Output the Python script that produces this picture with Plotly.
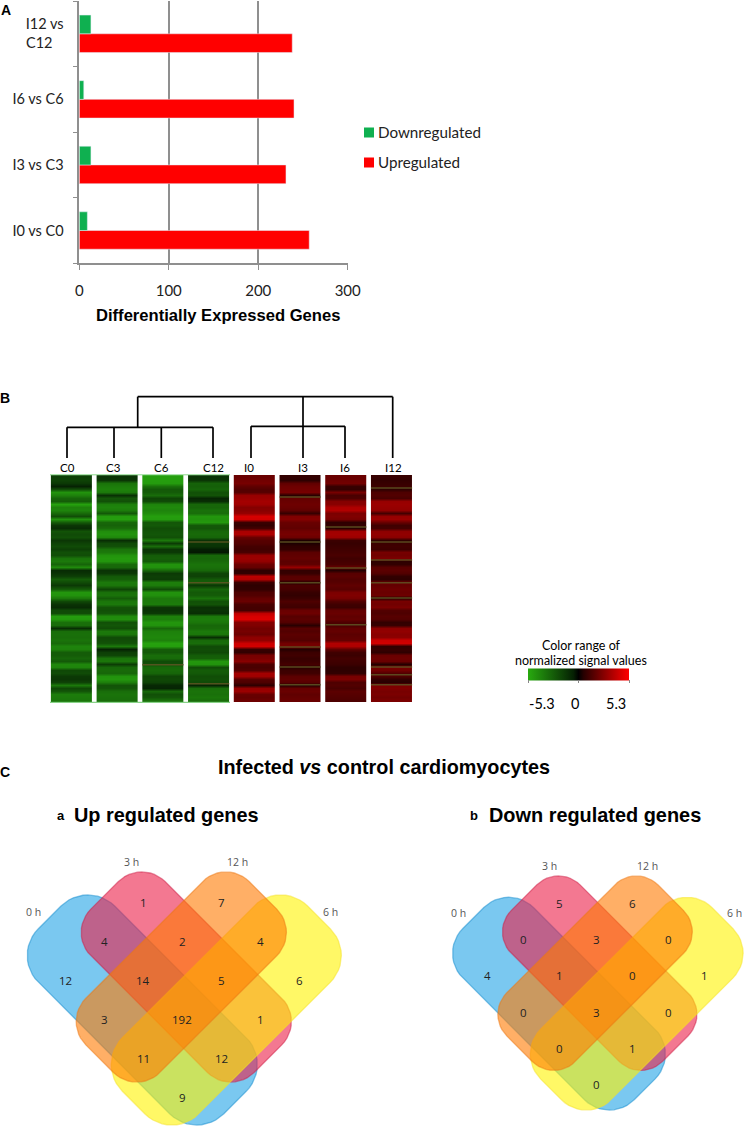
import math
import plotly.graph_objects as go

W, H = 748, 1134

# --- Panel A data
comparisons = ["I0 vs C0", "I3 vs C3", "I6 vs C6", "I12 vs C12"]
comparison_labels = ["I0 vs C0", "I3 vs C3", "I6 vs C6", "I12 vs<br>C12\u00a0\u00a0\u00a0"]
upregulated = [257, 231, 240, 238]
downregulated = [9, 13, 5, 13]

# --- Panel B data (rows top to bottom)
samples = ["C0", "C3", "C6", "C12", "I0", "I3", "I6", "I12"]
C0 = [-1.6,-1.7,-1.4,-0.6,-2.1,-4.5,-3.9,-2.9,-2.6,-5.0,-3.9,-4.0,-3.1,-2.1,-4.5,-2.6,-1.3,-1.0,-2.3,-2.0,-2.2,-1.3,-1.7,-2.0,-1.6,-2.2,-2.1,-3.4,-3.6,-2.9,-4.2,-0.9,-1.2,-1.6,-2.6,-2.0,-1.4,-2.6,
      -4.6,-4.5,-3.6,-1.9,-1.2,-0.9,-2.0,-2.1,-4.9,-4.7,-3.3,-3.2,-1.0,-3.2,-3.3,-3.2,-3.4,-3.1,-4.0,-3.9,-2.6,-2.6,-2.9,-2.5,-4.1,-4.0,-1.9,-2.0,-1.4,-1.3,-1.7,-3.6,-1.9,-2.4,-3.7,-3.6,-3.5]
C3 = [-1.2,-1.3,-3.4,-3.7,-3.9,-3.6,-1.1,-2.4,-2.2,-3.8,-4.0,-3.7,-2.5,-4.8,-4.9,-3.0,-2.8,-3.2,-4.3,-4.5,-4.1,-1.0,-2.0,-2.2,-3.4,-3.6,-4.5,-4.7,-4.6,-3.1,-3.0,-1.2,-1.4,-2.5,-2.7,-3.6,-3.5,-1.8,
      -3.3,-3.4,-2.6,-3.5,-3.6,-2.3,-2.2,-2.4,-4.2,-4.3,-2.2,-2.4,-2.1,-3.6,-3.5,-2.0,-2.1,-2.3,-3.6,-0.6,-1.6,-1.8,-3.4,-3.5,-1.5,-3.0,-3.1,-3.0,-4.5,-4.6,-3.8,-2.3,-2.4,-3.2,-3.4,-3.3,-3.2]
C6 = [-4.9,-4.9,-4.8,-3.3,-2.5,-2.6,-3.2,-1.8,-2.0,-4.0,-4.2,-4.0,-4.3,-4.9,-4.8,-2.4,-2.5,-2.1,-2.3,-2.4,-2.2,-3.6,-1.5,-3.2,-1.3,-1.4,-2.6,-2.7,-2.5,-4.5,-4.4,-3.0,-1.4,-1.6,-1.5,-3.8,-3.7,-2.0,
      -4.5,-4.4,-3.6,-3.6,-3.7,-1.3,-1.2,-1.4,-3.9,-3.8,-4.6,-4.5,-3.0,-3.9,-4.0,-4.1,-3.9,-5.0,-4.9,-2.6,-2.5,-3.2,-3.1,-2.0,-2.2,-3.0,-3.1,-2.9,-1.8,-1.9,-1.7,-0.8,-0.7,-3.0,-2.2,-2.4,-3.3]
C12 = [-1.2,-1.3,-2.8,-2.7,-2.9,-2.2,-2.3,-0.7,-1.0,-3.0,-2.9,-3.3,-3.2,-4.6,-4.5,-4.7,-2.5,-2.4,-3.0,-3.1,-2.9,-1.2,-1.3,-1.2,-0.5,-0.4,-3.0,-2.9,-3.1,-3.4,-3.3,-3.0,-1.8,-1.7,-2.5,-2.6,-1.4,-2.9,
       -2.5,-2.6,-3.4,-2.2,-2.3,-1.1,-1.2,-1.0,-3.6,-3.7,-3.5,-3.0,-3.1,-3.6,-3.5,-1.0,-3.1,-3.2,-2.0,-2.1,-1.9,-2.6,-2.7,-4.6,-4.5,-2.0,-2.6,-2.5,-2.1,-2.2,-2.0,-0.7,-3.2,-3.4,-3.3,-3.5,-3.2]
I0 = [2.0,2.2,2.3,1.8,1.5,1.6,3.0,3.1,3.3,3.2,2.6,2.7,3.0,4.4,4.3,1.0,0.8,1.2,3.4,3.5,2.0,1.6,1.5,1.2,1.1,1.3,3.0,3.1,2.9,2.1,1.9,0.7,0.8,3.8,3.6,1.0,0.7,0.8,
      1.4,1.5,1.9,2.0,1.3,1.2,1.2,3.9,4.4,4.5,2.6,2.5,2.2,2.3,2.1,2.8,2.9,4.2,4.3,0.9,0.8,2.3,2.4,2.7,1.4,1.3,1.5,3.3,3.2,1.6,1.4,0.7,3.0,3.1,2.0,1.9,2.1]
I3 = [0.8,0.7,1.8,2.1,2.2,2.3,0.6,1.9,2.0,2.1,2.0,1.8,0.9,2.5,2.6,2.0,1.9,1.8,2.2,2.3,2.1,0.4,0.4,0.7,0.8,1.7,1.8,1.9,1.7,1.8,3.0,0.8,0.9,1.6,1.7,0.5,1.3,1.2,
      0.9,0.8,1.0,1.4,1.2,1.1,2.0,2.1,1.6,1.7,1.5,0.6,1.6,1.5,1.7,1.6,1.5,2.2,2.3,0.5,1.0,1.1,0.9,1.0,1.2,0.6,1.0,1.1,1.7,1.8,1.6,0.5,1.9,2.0,1.8,1.9,2.0]
I6 = [2.0,2.1,2.2,0.9,0.8,2.3,1.3,1.4,2.6,2.7,3.5,3.6,2.4,2.5,2.3,0.7,0.8,0.6,3.2,3.3,3.1,1.0,0.9,1.0,1.1,1.2,1.3,1.1,1.2,1.3,2.0,0.5,1.6,1.7,1.5,1.6,1.8,1.6,
      2.4,2.5,2.3,1.5,1.1,1.0,1.9,2.0,1.8,1.9,1.4,1.3,1.8,1.9,1.7,1.8,1.9,3.6,3.5,1.8,1.1,1.0,1.2,1.1,1.0,0.7,0.7,0.8,2.3,2.4,1.4,1.5,1.3,1.7,1.6,1.5,1.4]
I12 = [0.9,0.8,0.9,1.0,0.7,1.4,1.5,1.3,3.0,3.1,3.0,2.9,1.2,3.0,3.1,2.0,1.1,1.2,2.8,2.9,2.7,0.7,1.0,1.1,1.0,2.3,2.2,2.4,0.7,0.8,1.6,1.7,1.5,0.8,0.7,2.0,1.9,2.1,
       2.0,2.1,0.6,2.3,2.2,2.4,1.5,1.4,1.6,1.5,0.8,0.9,2.8,2.9,2.7,2.8,4.2,4.3,0.8,0.9,0.7,2.0,2.1,2.0,0.5,2.3,2.2,1.5,1.4,0.8,0.6,2.4,2.5,2.3,2.4,2.2,2.4]
# rows where a column shows a thin olive/brown streak: (column, row)
streak_columns = [3, 3, 2, 3, 5, 5, 5, 5, 5, 5, 6, 6, 6, 7, 7, 7, 7, 7, 7, 7, 7]
streak_rows = [21.6, 35.1, 62.2, 68.5, 6.8, 21.6, 35.1, 56.3, 62.9, 68.8, 16.7, 30.2, 49.0, 3.8, 21.6, 27.6, 35.1, 40.1, 62.9, 65.5, 68.8]

# --- Panel C data
venn_cells = [(-3,-1),(-1,-3),(1,-3),(3,-1),(-2,-2),(0,-2),(2,-2),(-1,-1),(1,-1),(-2,0),(0,0),(2,0),(-1,1),(1,1),(0,2)]
venn_up = [12, 1, 7, 6, 4, 2, 4, 14, 5, 3, 192, 1, 11, 12, 9]
venn_down = [4, 5, 6, 1, 0, 3, 0, 1, 0, 0, 3, 0, 0, 1, 0]
venn_hours = ["0 h", "3 h", "12 h", "6 h"]

SANS = "Liberation Sans"
BODY = "Lato"
GRAY = "#8f8f8f"
RED = "#ff0000"
GREEN = "#0fb050"


def rounded_diagonal(cx, cy, length, width, r, direction):
    """Outline of a rounded rectangle tilted 45 degrees."""
    hl, hw = length / 2 - r, width / 2 - r
    pts = []
    for (ax, ay, start) in [(hl, hw, 0), (-hl, hw, 90), (-hl, -hw, 180), (hl, -hw, 270)]:
        for k in range(0, 13):
            t = math.radians(start + k * 7.5)
            pts.append((ax + r * math.cos(t), ay + r * math.sin(t)))
    pts.append(pts[0])
    c = math.sqrt(0.5)
    xs = [cx + c * (p[0] - direction * p[1]) for p in pts]
    ys = [cy + c * (direction * p[0] + p[1]) for p in pts]
    return xs, ys


fig = go.Figure()

# Bars
fig.add_bar(y=comparisons, x=upregulated, name="Upregulated", orientation="h",
            marker_color=RED, showlegend=False, xaxis="x", yaxis="y")
fig.add_bar(y=comparisons, x=downregulated, name="Downregulated", orientation="h",
            marker_color=GREEN, showlegend=False, xaxis="x", yaxis="y")

# Heatmap columns with the colour key
columns = [C0, C3, C6, C12, I0, I3, I6, I12]
SCALE = [[0, "rgb(40,170,15)"], [0.45, "rgb(5,32,3)"], [0.5, "rgb(0,0,0)"], [0.55, "rgb(38,0,0)"], [1, "rgb(255,0,0)"]]
for i, (name, col) in enumerate(zip(samples, columns)):
    fig.add_heatmap(
        z=[[v, v] for v in col], x=[i - 0.225, i + 0.225], y=list(range(len(col))), name=name,
        xaxis="x2", yaxis="y2", zmin=-5.3, zmax=5.3, zsmooth="best", hoverinfo="skip", colorscale=SCALE,
        showscale=(i == 0),
        colorbar=dict(orientation="h", x=578.5 / W, xanchor="center", y=1 - 675.5 / H, yanchor="middle",
                      lenmode="pixels", len=101, thickness=12, outlinewidth=0, xpad=0, ypad=0,
                      tickvals=[-5.3, 0, 5.3], ticks="outside", ticklen=3, tickcolor="#888888",
                      showticklabels=False),
    )
for c, r in zip(streak_columns, streak_rows):
    fig.add_scatter(x=[c - 0.45, c + 0.45], y=[r, r], mode="lines", xaxis="x2", yaxis="y2", showlegend=False,
                    hoverinfo="skip", line=dict(color="rgba(95,85,35,0.85)", width=1.5))


def overlay_line(xs, ys, color="#000000", width=1.7):
    fig.add_scatter(x=xs, y=ys, mode="lines", line=dict(color=color, width=width), xaxis="x3", yaxis="y3",
                    showlegend=False, hoverinfo="skip")


# Dendrogram
top, mid_c, mid_i, leaf = 396.7, 427.3, 426.3, 458
overlay_line([137.7, 392.7], [top, top])
overlay_line([137.7, 137.7], [top, mid_c])
overlay_line([303, 303], [top, leaf])
overlay_line([392.7, 392.7], [top, leaf])
overlay_line([67, 213], [mid_c, mid_c])
for lx in (67, 114, 161.3, 213):
    overlay_line([lx, lx], [mid_c, leaf])
overlay_line([251, 345], [mid_i, mid_i])
for lx in (251, 345):
    overlay_line([lx, lx], [mid_i, leaf])
overlay_line([50, 230], [474.8, 474.8], "#8ad98a", 1)
overlay_line([50, 230], [702.3, 702.3], "#6cc96c", 1)

annotations = []


def text(x, y, s, size, font=BODY, color="#1a1a1a", anchor="center"):
    annotations.append(dict(x=x, y=y, xref="x3", yref="y3", text=s, showarrow=False, xanchor=anchor,
                            yanchor="middle", font=dict(family=font, size=size, color=color)))


# Panel A key
for y_key, colour, label in ((132.5, GREEN, "Downregulated"), (162.5, RED, "Upregulated")):
    fig.add_scatter(x=[369], y=[y_key], mode="markers", xaxis="x3", yaxis="y3", showlegend=False, hoverinfo="skip",
                    marker=dict(symbol="square", size=10, color=colour, line=dict(width=0)))
    text(376, y_key - 1, label, 15.2, BODY, "#222222", "left")

# Venn diagrams: name -> fill, edge, long-axis direction, offset of centre
VENN = {
    "blue": ("33,163,230", "20,140,205", 1, (-40, -9), (262, 108, 38)),
    "pink": ("235,30,72", "205,30,70", 1, (4, -42), (231, 105, 33)),
    "yellow": ("255,243,0", "245,225,40", -1, (44, -9), (262, 108, 38)),
    "orange": ("255,122,0", "235,120,20", -1, (-1, -42), (231, 105, 33)),
}


def venn(center, scale, values, label_pos):
    cx, cy = center
    for fill, edge, d, (ox, oy), (L, Wd, r) in VENN.values():
        xs, ys = rounded_diagonal(cx + ox * scale, cy + oy * scale, L * scale, Wd * scale, r * scale, d)
        fig.add_scatter(x=xs, y=ys, mode="lines", fill="toself", fillcolor=f"rgba({fill},0.6)",
                        line=dict(color=f"rgba({edge},0.5)", width=1.3), xaxis="x3", yaxis="y3",
                        showlegend=False, hoverinfo="skip")
    for (dx, dy), v in zip(venn_cells, values):
        text(cx + dx * 39 * scale, cy + dy * 39 * scale, str(v), 11.5, "Open Sans", "#222222")
    for (lx, ly), h in zip(label_pos, venn_hours):
        text(lx, ly, h, 10.5, "Open Sans", "#555555")


venn((182.3, 1019), 1.0, venn_up, [(33, 912), (131, 862), (237, 862), (330, 912)])
venn((596, 1012), 0.925, venn_down, [(458, 913), (549, 866), (647, 866), (734, 913)])

# Text
text(6, 10, "<b>A</b>", 14, SANS, "#000000")
text(5, 398, "<b>B</b>", 14, SANS, "#000000")
text(5, 772, "<b>C</b>", 14, SANS, "#000000")
text(218, 315, "<b>Differentially Expressed Genes</b>", 16.6, SANS, "#000000")
for s, lx in zip(samples, (67, 113, 161, 213, 249, 303, 345, 393)):
    text(lx, 467.5, s, 11.5, BODY, "#000000")
text(581, 645, "Color range of", 12.5, BODY, "#000000")
text(581, 660, "normalized signal values", 12.5, BODY, "#000000")
text(542, 703, "-5.3", 14.5, BODY, "#000000")
text(575, 703, "0", 14.5, BODY, "#000000")
text(616, 703, "5.3", 14.5, BODY, "#000000")
text(383.5, 767, "<b>Infected <i>vs</i> control cardiomyocytes</b>", 19.8, SANS, "#000000")
text(61, 815, "<b>a</b>", 13, SANS, "#000000")
text(166.5, 815, "<b>Up regulated genes</b>", 19.9, SANS, "#000000")
text(474, 815, "<b>b</b>", 13, SANS, "#000000")
text(595, 815, "<b>Down regulated genes</b>", 19.9, SANS, "#000000")

fig.update_layout(
    width=W, height=H, autosize=False, margin=dict(l=0, r=0, t=0, b=0, autoexpand=False),
    paper_bgcolor="#ffffff", plot_bgcolor="rgba(0,0,0,0)", barmode="group", bargap=0.43, bargroupgap=0,
    font=dict(family=BODY, size=15, color="#222222"), showlegend=False,
    xaxis=dict(domain=[79.3 / W, 347.7 / W], anchor="y", range=[0, 300], tickvals=[0, 100, 200, 300],
               showgrid=True, gridcolor=GRAY, gridwidth=1.5, showline=True, linecolor=GRAY, linewidth=1.5,
               ticks="outside", ticklen=5, tickcolor=GRAY, ticklabelstandoff=8, zeroline=False,
               tickfont=dict(family=BODY, size=15, color="#222222")),
    yaxis=dict(domain=[1 - 263.3 / H, 1 - 1 / H], anchor="x", type="category", categoryorder="array",
               categoryarray=comparisons, tickvals=comparisons, ticktext=comparison_labels, tickson="boundaries",
               showline=True, linecolor=GRAY, linewidth=1.5, ticks="outside", ticklen=5, tickcolor=GRAY,
               ticklabelstandoff=11, tickfont=dict(family=BODY, size=14.5, color="#222222")),
    xaxis2=dict(domain=[48.6 / W, 414.4 / W], anchor="y2", visible=False, range=[-0.5, 7.5]),
    yaxis2=dict(domain=[1 - 702 / H, 1 - 475 / H], anchor="x2", visible=False, range=[74.5, -0.5]),
    xaxis3=dict(domain=[0, 1], range=[0, W], anchor="y3", visible=False, fixedrange=True),
    yaxis3=dict(domain=[0, 1], range=[H, 0], anchor="x3", visible=False, fixedrange=True),
    annotations=annotations,
)

fig.write_html("out.html", config={"displayModeBar": False},
               post_script="document.body.style.margin='0';document.body.style.overflow='hidden';")
